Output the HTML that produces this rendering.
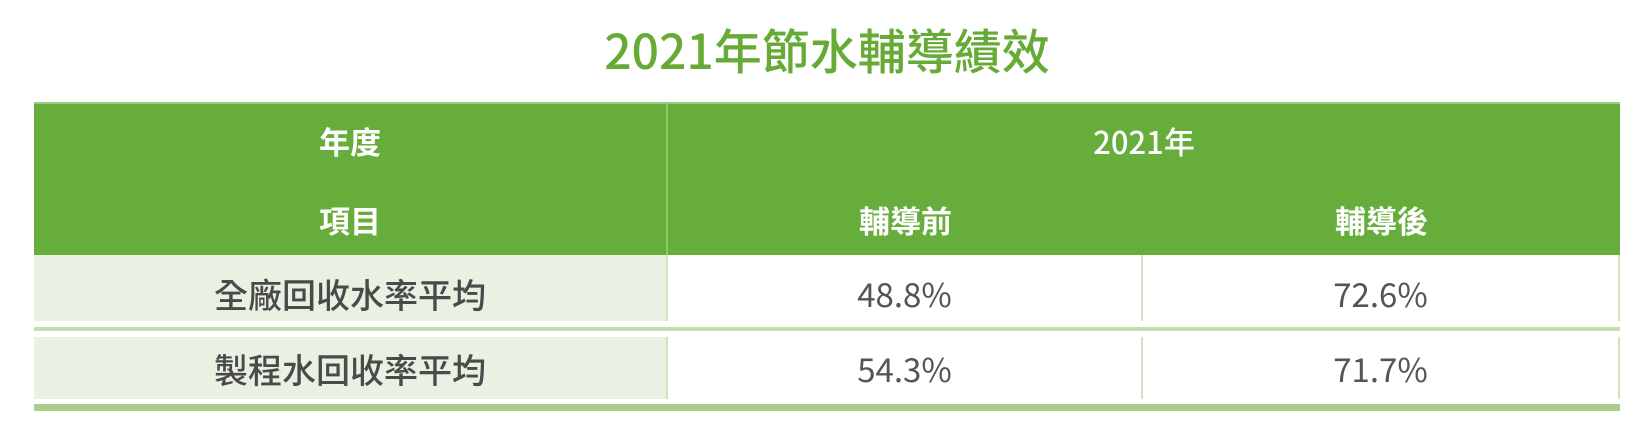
<!DOCTYPE html>
<html><head><meta charset="utf-8"><style>
body{margin:0;width:1652px;height:425px;background:#fff;font-family:"Noto Sans CJK TC","Liberation Sans",sans-serif;position:relative;overflow:hidden}
div{position:absolute;box-sizing:border-box}
.t{display:flex;align-items:center;justify-content:center}
.h{color:#fff;font-size:31px;font-weight:bold}
.b{color:#555;font-size:33px}
.l{font-size:34px;font-weight:500;color:#4a4a4a}
</style></head><body>
<div class="t" style="left:477px;width:700px;top:14px;height:68px;color:#67ab37;font-size:48px;font-weight:500">2021年節水輔導績效</div>
<div style="left:34px;width:1586px;top:102px;height:153px;background:#67ad3b;border-top:2px solid #9cc97e"></div>
<div style="left:666px;width:2px;top:102px;height:153px;background:#8fc46a"></div>
<div class="t h" style="left:34px;width:632px;top:114px;height:52px">年度</div>
<div class="t h" style="left:34px;width:632px;top:193px;height:52px">項目</div>
<div class="t h" style="left:668px;width:952px;top:114px;height:52px;font-weight:500">2021年</div>
<div class="t h" style="left:668px;width:475px;top:193px;height:52px">輔導前</div>
<div class="t h" style="left:1143px;width:477px;top:193px;height:52px">輔導後</div>
<div class="t b l" style="left:34px;width:634px;top:255px;height:66px;padding-top:10px;background:#e9f1e2;border-right:2px solid #cfe3bf">全廠回收水率平均</div>
<div class="t b" style="left:668px;width:475px;top:255px;height:66px;padding-top:10px;border-right:2px solid #cfe3bf">48.8%</div>
<div class="t b" style="left:1143px;width:477px;top:255px;height:66px;padding-top:10px;border-right:2px solid #cfe3bf">72.6%</div>
<div style="left:34px;width:1586px;top:327px;height:4px;background:#c5dfb1"></div>
<div class="t b l" style="left:34px;width:634px;top:337px;height:62px;background:#e9f1e2;border-right:2px solid #cfe3bf">製程水回收率平均</div>
<div class="t b" style="left:668px;width:475px;top:337px;height:62px;border-right:2px solid #cfe3bf">54.3%</div>
<div class="t b" style="left:1143px;width:477px;top:337px;height:62px;border-right:2px solid #cfe3bf">71.7%</div>
<div style="left:34px;width:1586px;top:404px;height:7px;background:#aacd8d"></div>
</body></html>
